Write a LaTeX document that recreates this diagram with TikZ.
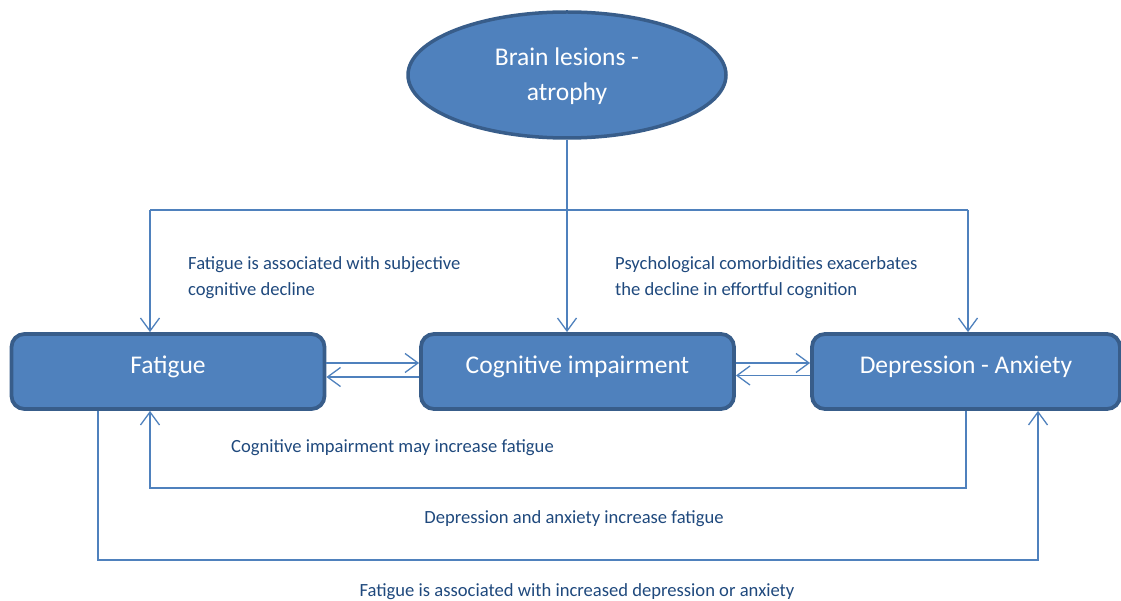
\documentclass[tikz,border=0pt]{standalone}
\usepackage{fontspec}
\setmainfont{Carlito}
\usetikzlibrary{shapes.geometric,arrows.meta}
\definecolor{boxfill}{HTML}{4F81BD}
\definecolor{boxline}{HTML}{385D8A}
\definecolor{labtext}{HTML}{1F497D}
\definecolor{conn}{HTML}{4F81BD}
\tikzset{
  box/.style={draw=boxline, fill=boxfill, line width=3.8pt, rounded corners=13pt,
    minimum width=313pt, minimum height=75pt, text=white, font=\fontsize{25.5}{30}\selectfont,
    inner sep=0pt, text height=10pt, text depth=6pt},
  oval/.style={draw=boxline, fill=boxfill, line width=3.5pt, ellipse,
    minimum width=318pt, minimum height=126pt, text=white, inner sep=0pt,
    font=\fontsize{25.5}{35}\selectfont, align=center, text height=57pt, text depth=6pt},
  conline/.style={draw=conn, line width=1.4pt},
  arr/.style={conline, -{Straight Barb[length=13pt,width=19pt,line width=1.3pt]}},
  lab/.style={text=labtext, font=\fontsize{18.6}{25.5}\selectfont, inner sep=0pt, align=left}
}
\begin{document}
\begin{tikzpicture}[x=1pt,y=-1pt]
\useasboundingbox (0,0) rectangle (1121,601);
\node[oval] (brain) at (567,75) {Brain lesions -\\atrophy};
\node[box] (fat) at (168,371.5) {Fatigue};
\node[box] (cog) at (577.5,371.5) {Cognitive impairment};
\node[box, minimum width=308pt] (dep) at (966,371.5) {Depression - Anxiety};

\coordinate (tl) at (150,210);
\coordinate (tr) at (968,210);
\draw[conline] (tl) -- (tr);
\draw[arr] (tl) -- (tl |- fat.north);
\draw[arr] (tr) -- (tr |- dep.north);
\draw[arr] (brain.south) -- (brain.south |- cog.north);

\draw[arr] ([yshift=8.5pt]fat.east) -- ([yshift=8.5pt]fat.east -| cog.west);
\draw[arr] ([yshift=-5.5pt]cog.west) -- ([yshift=-5.5pt]cog.west -| fat.east);
\draw[arr] ([yshift=8.5pt]cog.east) -- ([yshift=8.5pt]cog.east -| dep.west);
\draw[arr] ([yshift=-4pt]dep.west) -- ([yshift=-4pt]dep.west -| cog.east);

\coordinate (b1r) at (966,488);
\coordinate (b1l) at (150,488);
\draw[arr] (b1r |- dep.south) -- (b1r) -- (b1l) -- (b1l |- fat.south);
\coordinate (b2l) at (98,560);
\coordinate (b2r) at (1038,560);
\draw[arr] (b2l |- fat.south) -- (b2l) -- (b2r) -- (b2r |- dep.south);

\node[lab, anchor=base west] (l1) at (188,295.5) {Fatigue is associated with subjective\\cognitive decline};
\node[lab, anchor=base west] (l2) at (615,295.5) {Psychological comorbidities exacerbates\\the decline in effortful cognition};
\node[lab, anchor=base west] (l3) at (231,452) {Cognitive impairment may increase fatigue};
\node[lab, anchor=base] (l4) at (574,523) {Depression and anxiety increase fatigue};
\node[lab, anchor=base] (l5) at (577,596) {Fatigue is associated with increased depression or anxiety};
\end{tikzpicture}
\end{document}
